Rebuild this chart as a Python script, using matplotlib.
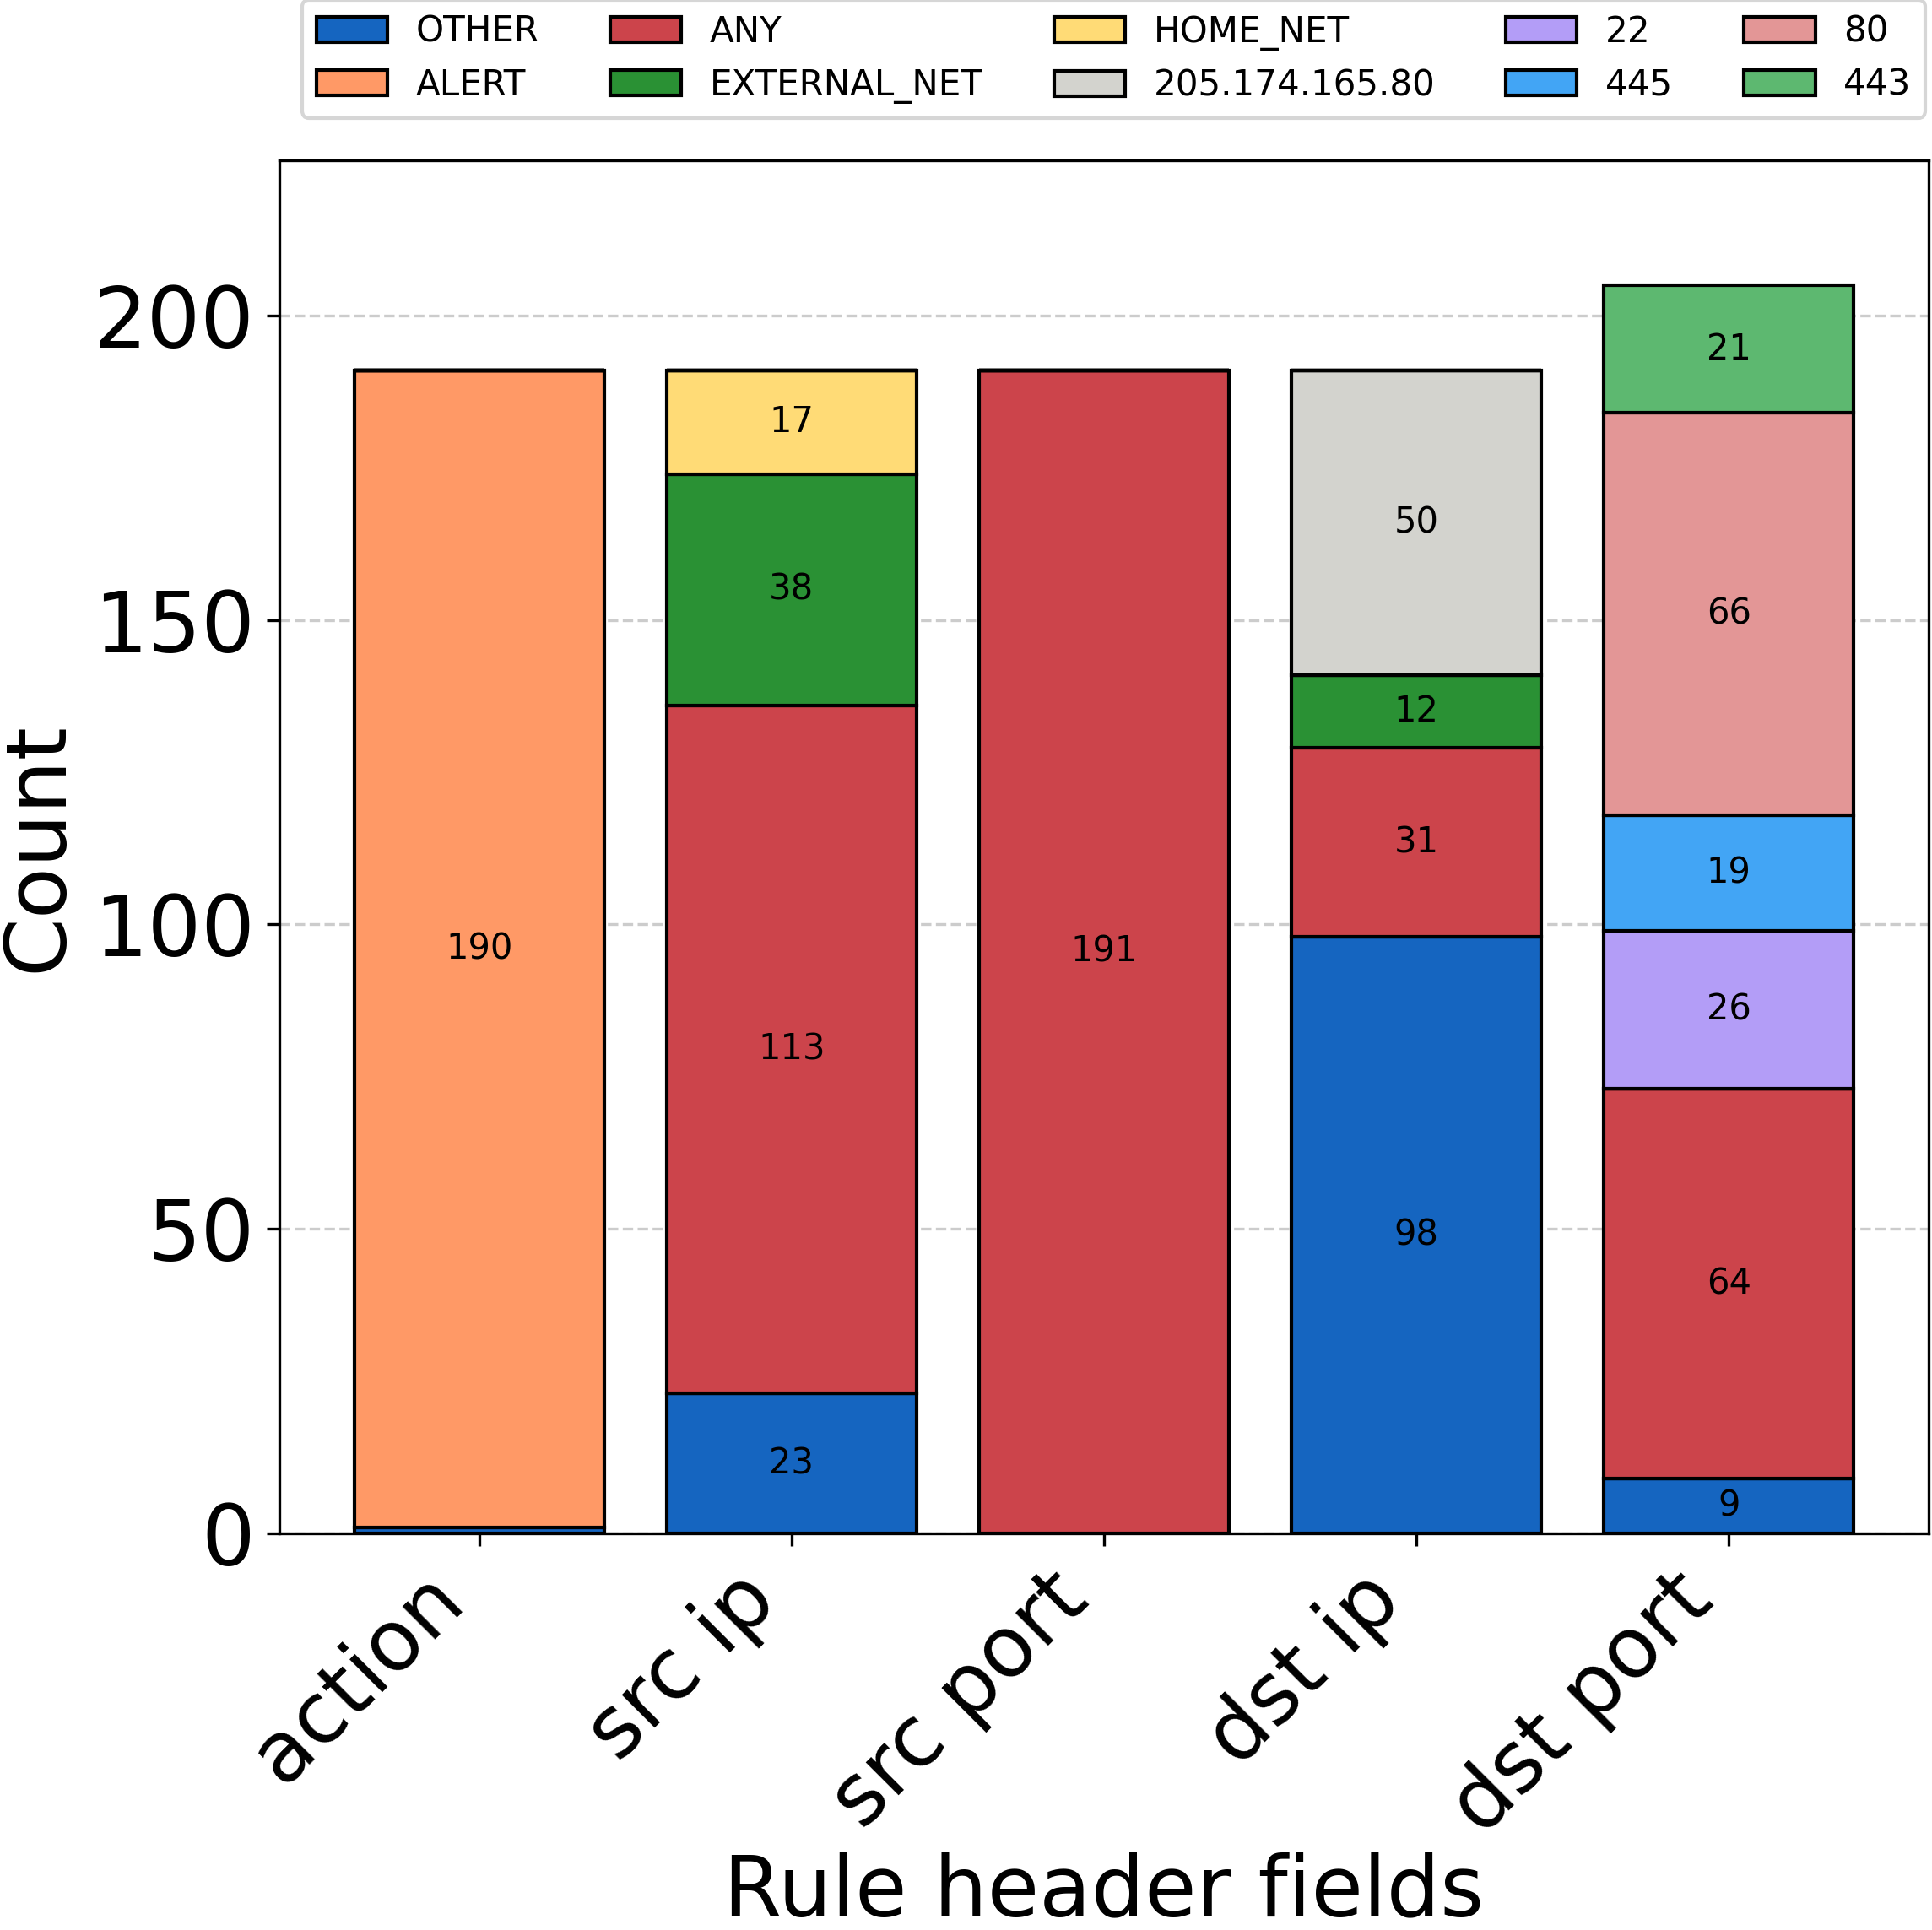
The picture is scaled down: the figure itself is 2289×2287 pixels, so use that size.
import matplotlib
matplotlib.use("Agg")
import matplotlib.pyplot as plt
import numpy as np

fields = ["action", "src ip", "src port", "dst ip", "dst port"]
categories = ["OTHER", "ALERT", "ANY", "EXTERNAL_NET", "HOME_NET",
              "205.174.165.80", "22", "445", "80", "443"]
colors = ["#1565C0", "#FF9966", "#CC444B", "#2A9134", "#FFDB76",
          "#D3D3CE", "#B39DF7", "#42A5F5", "#E39696", "#5DB870"]

OTHER = [1, 23, 0, 98, 9]
ALERT = [190, 0, 0, 0, 0]
ANY = [0, 113, 191, 31, 64]
EXTERNAL_NET = [0, 38, 0, 12, 0]
HOME_NET = [0, 17, 0, 0, 0]
IP_205 = [0, 0, 0, 50, 0]
P22 = [0, 0, 0, 0, 26]
P445 = [0, 0, 0, 0, 19]
P80 = [0, 0, 0, 0, 66]
P443 = [0, 0, 0, 0, 21]

series = [OTHER, ALERT, ANY, EXTERNAL_NET, HOME_NET, IP_205, P22, P445, P80, P443]

W, H = 2289, 2287
fig = plt.figure(figsize=(W / 300, H / 300), dpi=300)
ax = fig.add_axes([331 / W, 1 - 1817 / H, (2285 - 331) / W, (1817 - 190) / H])

x = np.arange(len(fields))
bottom = np.zeros(len(fields))
for name, vals, col in zip(categories, series, colors):
    vals = np.array(vals, dtype=float)
    bars = ax.bar(x, vals, 0.8, bottom=bottom, color=col, edgecolor="black",
                  linewidth=1.0, label=name, zorder=3)
    labels = [f"{int(v)}" if v > 2 else "" for v in vals]
    ax.bar_label(bars, labels=labels, label_type="center", fontsize=10, zorder=4)
    bottom += vals

ax.set_ylim(0, bottom.max() * 1.1)
ax.set_yticks([0, 50, 100, 150, 200])
ax.yaxis.grid(True, linestyle="--", color="#cccccc", linewidth=0.8, zorder=0)
ax.set_axisbelow(True)
ax.set_xticks(x)
ax.set_xticklabels(fields, rotation=45, ha="right", fontsize=24)
ax.tick_params(axis="y", labelsize=24)
ax.set_ylabel("Count", fontsize=24)
ax.set_xlabel("Rule header fields", fontsize=24)
ax.yaxis.set_label_coords(-0.121, 0.5)
ax.xaxis.set_label_coords(0.5, -0.232)

fig.legend(loc="upper center", bbox_to_anchor=(0.5765, 1.0), ncol=5, fontsize=10.1,
           frameon=True, borderaxespad=0.0)

fig.savefig("out.png", dpi=300)
